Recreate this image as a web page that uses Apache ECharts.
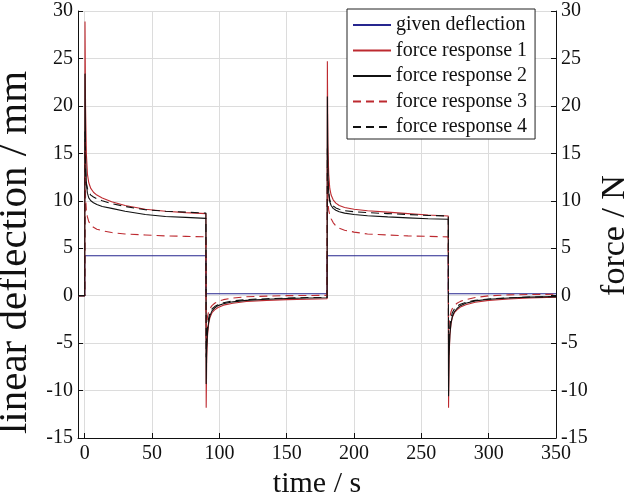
<!DOCTYPE html>
<html><head><meta charset="utf-8">
<script src="https://cdn.jsdelivr.net/npm/echarts@6/dist/echarts.min.js"></script>
<style>html,body{margin:0;padding:0;background:#fff}#c{width:630px;height:504px}</style>
</head><body><div id="c"></div>
<script>
// ---- data ----
const xTicks = [0, 50, 100, 150, 200, 250, 300, 350];
const yTicks = [-15, -10, -5, 0, 5, 10, 15, 20, 25, 30];

const timeGiven = [-5, 0, 0, 90, 90, 180, 180, 270, 270, 350];
const givenDeflection = [0, 0, 4.2, 4.2, 0.2, 0.2, 4.2, 4.2, 0.2, 0.2];

const time = [
  -5, 0, 0.2, 0.6, 1.2, 2, 3, 4.5, 6.5, 9, 13, 20, 30, 45, 60, 75, 90,
  90.2, 90.6, 91.2, 92, 93, 94.5, 96.5, 99, 103, 110, 120, 135, 150, 165, 180,
  180.2, 180.6, 181.2, 182, 183, 184.5, 186.5, 189, 193, 200, 210, 225, 240, 255, 270,
  270.2, 270.6, 271.2, 272, 273, 274.5, 276.5, 279, 283, 290, 300, 315, 330, 350
];
const force1 = [
  0, 0, 28.9, 20, 15, 12.8, 11.9, 11.3, 10.9, 10.6, 10.3, 9.9, 9.5, 9.1, 8.9, 8.75, 8.65,
  -11.8, -6.5, -4.2, -3.0, -2.3, -1.8, -1.5, -1.25, -1.0, -0.8, -0.62, -0.5, -0.42, -0.37, -0.33,
  24.7, 16, 12.8, 11.3, 10.6, 10.1, 9.75, 9.5, 9.3, 9.1, 8.95, 8.8, 8.65, 8.5, 8.4,
  -11.8, -6.5, -4.2, -3.0, -2.3, -1.8, -1.5, -1.2, -0.95, -0.7, -0.5, -0.35, -0.25, -0.15
];
const force2 = [
  0, 0, 23.4, 15, 11.8, 10.8, 10.3, 10.0, 9.8, 9.6, 9.4, 9.2, 8.9, 8.55, 8.35, 8.25, 8.15,
  -9.3, -5.5, -3.8, -2.8, -2.1, -1.6, -1.3, -1.05, -0.85, -0.65, -0.5, -0.38, -0.3, -0.25, -0.22,
  21, 13, 10.8, 9.9, 9.5, 9.2, 9.0, 8.85, 8.7, 8.55, 8.42, 8.3, 8.2, 8.1, 8.05,
  -10.6, -6, -4.0, -2.9, -2.2, -1.7, -1.35, -1.05, -0.8, -0.55, -0.38, -0.25, -0.15, -0.1
];
const force3 = [
  0, 0, 16.2, 10.5, 9.0, 8.3, 7.8, 7.45, 7.2, 7.0, 6.85, 6.65, 6.5, 6.4, 6.3, 6.25, 6.2,
  -4.5, -3.0, -2.2, -1.7, -1.35, -1.05, -0.8, -0.6, -0.42, -0.25, -0.12, -0.05, 0.0, 0.02, 0.03,
  13.5, 10, 9.0, 8.5, 8.1, 7.7, 7.35, 7.1, 6.9, 6.7, 6.5, 6.4, 6.3, 6.25, 6.2,
  -4.5, -3.0, -2.2, -1.7, -1.35, -1.05, -0.8, -0.6, -0.42, -0.2, -0.02, 0.08, 0.12, 0.15
];
const force4 = [
  0, 0, 17.3, 13, 11.9, 11.3, 10.9, 10.6, 10.4, 10.2, 10.0, 9.7, 9.4, 9.05, 8.9, 8.8, 8.7,
  -6.5, -4.5, -3.2, -2.4, -1.8, -1.4, -1.15, -0.95, -0.75, -0.55, -0.42, -0.32, -0.25, -0.2, -0.18,
  15.5, 12, 10.8, 10.1, 9.7, 9.45, 9.25, 9.1, 8.95, 8.85, 8.75, 8.65, 8.55, 8.45, 8.4,
  -6.5, -4.5, -3.2, -2.4, -1.8, -1.4, -1.1, -0.9, -0.7, -0.5, -0.35, -0.22, -0.15, -0.1
];
const seriesNames = ['given deflection', 'force response 1', 'force response 2', 'force response 3', 'force response 4'];

// ---- chart ----
const FONT = '"Liberation Serif", "Times New Roman", serif';
const INK = '#111';
const BLUE = '#26268f';
const RED = '#bd2a30';
const zip = (xs, ys) => xs.map((x, i) => [x, ys[i]]);

const yAxisBase = {
  type: 'value',
  min: yTicks[0], max: yTicks[yTicks.length - 1], interval: yTicks[1] - yTicks[0],
  axisLine: { show: true, onZero: false, lineStyle: { color: INK, width: 1 } },
  axisTick: { show: true, inside: true, length: 5, lineStyle: { color: INK } },
  axisLabel: { fontSize: 20, color: INK, fontFamily: FONT, margin: 5 },
  nameLocation: 'middle',
  nameTextStyle: { fontSize: 41, color: INK, fontFamily: FONT }
};

const lineSeries = (name, data, color, dashed) => ({
  name, type: 'line', data, symbol: 'none', showSymbol: false,
  lineStyle: { color, width: 1.1, type: dashed ? [8, 5] : 'solid' },
  itemStyle: { color },
  emphasis: { disabled: true }, silent: true
});

const option = {
  animation: false,
  backgroundColor: '#fff',
  textStyle: { fontFamily: FONT },
  grid: { left: 78, right: 74, top: 11, bottom: 66, outerBoundsMode: 'none', containLabel: false },
  legend: {
    orient: 'vertical', left: 347, top: 9,
    padding: [6, 8, 2, 5], itemGap: 5.5, itemWidth: 38, itemHeight: 14,
    backgroundColor: '#fff', borderColor: '#222', borderWidth: 1, borderRadius: 0,
    itemStyle: { opacity: 0, borderWidth: 0 },
    textStyle: { fontSize: 20, color: INK, fontFamily: FONT },
    data: seriesNames
  },
  xAxis: {
    type: 'value', min: -5, max: xTicks[xTicks.length - 1],
    splitNumber: 7, minInterval: xTicks[1] - xTicks[0], maxInterval: xTicks[1] - xTicks[0],
    axisLine: { show: true, onZero: false, lineStyle: { color: INK, width: 1 } },
    axisTick: { show: true, inside: true, length: 5, lineStyle: { color: INK } },
    axisLabel: { showMinLabel: false, fontSize: 20, color: INK, fontFamily: FONT, margin: 6 },
    splitLine: { show: true, lineStyle: { color: '#dcdcdc', width: 1 } },
    name: 'time / s', nameLocation: 'middle', nameGap: 29,
    nameTextStyle: { fontSize: 30, color: INK, fontFamily: FONT }
  },
  yAxis: [
    Object.assign({}, yAxisBase, {
      position: 'left', name: 'linear deflection / mm', nameGap: 40,
      splitLine: { show: true, lineStyle: { color: '#dcdcdc', width: 1 } },
      nameTextStyle: Object.assign({}, yAxisBase.nameTextStyle, { padding: [0, 56, 0, 0] })
    }),
    Object.assign({}, yAxisBase, {
      position: 'right', name: 'force / N', nameGap: 33,
      splitLine: { show: false },
      nameTextStyle: Object.assign({}, yAxisBase.nameTextStyle, { fontSize: 34, padding: [0, 22, 0, 0] })
    })
  ],
  series: [
    lineSeries(seriesNames[0], zip(timeGiven, givenDeflection), BLUE, false),
    Object.assign(lineSeries(seriesNames[1], zip(time, force1), RED, false), { yAxisIndex: 1 }),
    Object.assign(lineSeries(seriesNames[2], zip(time, force2), INK, false), { yAxisIndex: 1 }),
    Object.assign(lineSeries(seriesNames[3], zip(time, force3), RED, true), { yAxisIndex: 1 }),
    Object.assign(lineSeries(seriesNames[4], zip(time, force4), INK, true), { yAxisIndex: 1 })
  ]
};

const chart = echarts.init(document.getElementById('c'), null, { renderer: 'canvas' });
chart.setOption(option);
</script>
</body></html>
